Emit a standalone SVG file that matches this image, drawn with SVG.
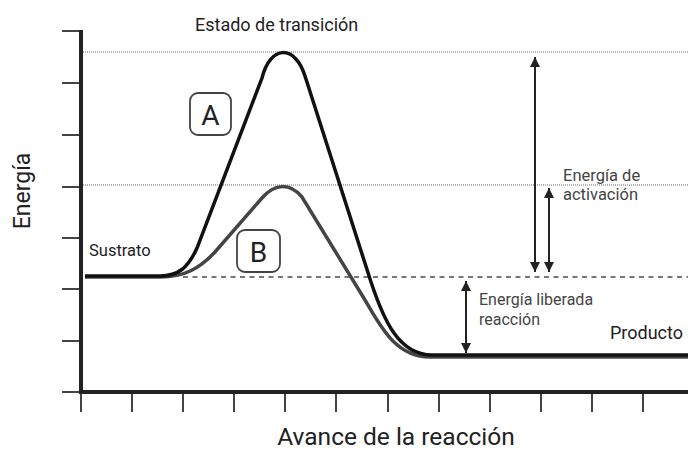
<svg xmlns="http://www.w3.org/2000/svg" width="688" height="451" viewBox="0 0 688 451">
<style>
text{font-family:Roboto,"Liberation Sans",sans-serif;fill:#222}
.lbl{fill:#444}
.axis{stroke:#222;stroke-width:4;fill:none}
.tick{stroke:#444;stroke-width:2}
.dot{stroke:#9a9a9a;stroke-width:1.5;stroke-dasharray:1 1;fill:none}
.dash{stroke:#777;stroke-width:1.8;stroke-dasharray:5 4.5;fill:none}
.arr{stroke:#222;stroke-width:2;fill:none;marker-start:url(#ah);marker-end:url(#ah)}
.box{fill:#fff;stroke:#444;stroke-width:1.8}
</style>
<defs>
<marker id="ah" viewBox="0 0 10 10" refX="10" refY="5" markerWidth="10" markerHeight="10" markerUnits="userSpaceOnUse" orient="auto-start-reverse">
<path d="M0,0 L10,5 L0,10 z" fill="#222"/>
</marker>
</defs>
<rect width="688" height="451" fill="#fff"/>
<g id="grid">
<line class="dot" x1="83" y1="52" x2="688" y2="52"/>
<line class="dot" x1="83" y1="185" x2="688" y2="185"/>
<line class="dash" x1="183" y1="277" x2="688" y2="277"/>
</g>
<g id="axes">
<g class="tick">
<line x1="62" y1="31" x2="81" y2="31"/>
<line x1="62" y1="83" x2="81" y2="83"/>
<line x1="62" y1="135" x2="81" y2="135"/>
<line x1="62" y1="187" x2="81" y2="187"/>
<line x1="62" y1="238" x2="81" y2="238"/>
<line x1="62" y1="289" x2="81" y2="289"/>
<line x1="62" y1="341" x2="81" y2="341"/>
<line x1="62" y1="392" x2="81" y2="392"/>
<line x1="81" y1="392" x2="81" y2="412"/>
<line x1="132" y1="392" x2="132" y2="412"/>
<line x1="183" y1="392" x2="183" y2="412"/>
<line x1="234" y1="392" x2="234" y2="412"/>
<line x1="285" y1="392" x2="285" y2="412"/>
<line x1="336" y1="392" x2="336" y2="412"/>
<line x1="388" y1="392" x2="388" y2="412"/>
<line x1="439" y1="392" x2="439" y2="412"/>
<line x1="490" y1="392" x2="490" y2="412"/>
<line x1="541" y1="392" x2="541" y2="412"/>
<line x1="592" y1="392" x2="592" y2="412"/>
<line x1="643" y1="392" x2="643" y2="412"/>
</g>
<path class="axis" d="M81,30 V392 H688"/>
<text x="30" y="191" font-size="23" text-anchor="middle" transform="rotate(-90 30 191)">Energía</text>
<text x="396" y="445" font-size="24.5" text-anchor="middle">Avance de la reacción</text>
</g>
<g id="curveB">
<path d="M85,277 H160 C185,277 200,268 215,252 L262,198 C275,183 290,183 302,197 L365,300 C380,325 395,357 430,357 H688" fill="none" stroke="#444" stroke-width="3.5"/>
</g>
<g id="curveA">
<path d="M85,276 H160 C178,276 188,268 197,248 L262,78 C270,45 295,44 305,76 L371,282 C383,318 398,355 432,355 H688" fill="none" stroke="#111" stroke-width="3.5"/>
</g>
<g id="labelA">
<rect class="box" x="190" y="93" width="41" height="42" rx="8"/>
<text x="210.5" y="125" font-size="28" text-anchor="middle">A</text>
</g>
<g id="labelB">
<rect class="box" x="237" y="230" width="43" height="42" rx="8"/>
<text x="258.5" y="262" font-size="28" text-anchor="middle">B</text>
</g>
<g id="connectors">
<line class="arr" x1="535" y1="57" x2="535" y2="272"/>
<line class="arr" x1="549" y1="188" x2="549" y2="272"/>
<line class="arr" x1="466" y1="281" x2="466" y2="353"/>
</g>
<g id="texts">
<text x="195" y="31" font-size="18">Estado de transición</text>
<text x="89" y="256" font-size="16.5">Sustrato</text>
<text class="lbl" x="563" y="181" font-size="16.5">Energía de</text>
<text class="lbl" x="563" y="200" font-size="16.5">activación</text>
<text class="lbl" x="479" y="305" font-size="16">Energía liberada</text>
<text class="lbl" x="479" y="325" font-size="16">reacción</text>
<text x="610" y="339" font-size="18">Producto</text>
</g>
</svg>
